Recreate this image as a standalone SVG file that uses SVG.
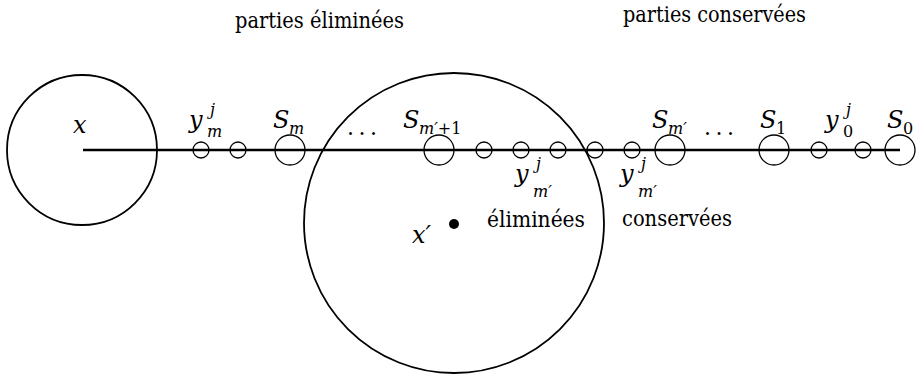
<svg xmlns="http://www.w3.org/2000/svg" width="918" height="379" viewBox="0 0 918 379">
<style>
.bg{fill:#fff}
.c{fill:none;stroke:#000;stroke-width:1.3}
.big{fill:none;stroke:#000;stroke-width:1.8}
.ln{stroke:#000;stroke-width:2.4}
text{font-family:'DejaVu Serif','Liberation Serif',serif;fill:#000}
.t{font-size:22px}
.m{font-style:italic;font-size:24px}
.s{font-style:italic;font-size:16px}
.u{font-style:normal;font-size:16px}
</style>
<rect class="bg" width="918" height="379"/>
<g id="connectors">
<line class="ln" x1="83" y1="150" x2="900" y2="150"/>
</g>
<g id="region-x">
<circle class="big" cx="82" cy="150" r="75"/>
<text class="m" x="73" y="133">x</text>
</g>
<g id="region-xprime">
<circle class="big" cx="454" cy="223" r="150"/>
<circle cx="454" cy="224" r="5" fill="#000"/>
<text class="m" x="412" y="243">x′</text>
</g>
<g id="nodes">
<circle class="c" cx="201" cy="150" r="8"/>
<circle class="c" cx="238" cy="150" r="8"/>
<circle class="c" cx="290" cy="150" r="15"/>
<circle class="c" cx="439" cy="150" r="15"/>
<circle class="c" cx="484" cy="150" r="8"/>
<circle class="c" cx="521" cy="150" r="8"/>
<circle class="c" cx="558" cy="150" r="8"/>
<circle class="c" cx="595" cy="150" r="8"/>
<circle class="c" cx="632" cy="150" r="8"/>
<circle class="c" cx="670" cy="150" r="15"/>
<circle class="c" cx="774" cy="150" r="15"/>
<circle class="c" cx="819" cy="150" r="8"/>
<circle class="c" cx="863" cy="150" r="8"/>
<circle class="c" cx="900" cy="150" r="15"/>
</g>
<g id="labels">
<text class="t" x="235" y="28" textLength="169" lengthAdjust="spacingAndGlyphs">parties éliminées</text>
<text class="t" x="623" y="22" textLength="183" lengthAdjust="spacingAndGlyphs">parties conservées</text>
<text class="m" x="189" y="128" font-size="26">y<tspan class="s" x="210" y="115">j</tspan><tspan class="s" x="207" y="137">m</tspan></text>
<text class="m" x="273" y="128">S<tspan class="s" x="289" y="134">m</tspan></text>
<text class="t" x="347" y="135" textLength="30" lengthAdjust="spacing">. . .</text>
<text class="m" x="403" y="128">S<tspan class="s" x="419" y="134">m′<tspan class="u">+1</tspan></tspan></text>
<text class="m" x="652" y="128">S<tspan class="s" x="668" y="134">m′</tspan></text>
<text class="t" x="704" y="135" textLength="30" lengthAdjust="spacing">. . .</text>
<text class="m" x="760" y="128">S<tspan class="u" x="776" y="134">1</tspan></text>
<text class="m" x="825" y="128" font-size="26">y<tspan class="s" x="846" y="115">j</tspan><tspan class="u" x="843" y="137">0</tspan></text>
<text class="m" x="887" y="128">S<tspan class="u" x="903" y="134">0</tspan></text>
<text class="m" x="515" y="182" font-size="26">y<tspan class="s" x="536" y="169">j</tspan><tspan class="s" x="533" y="197">m′</tspan></text>
<text class="m" x="620" y="182" font-size="26">y<tspan class="s" x="641" y="169">j</tspan><tspan class="s" x="638" y="197">m′</tspan></text>
<text class="t" x="487" y="227" textLength="98" lengthAdjust="spacingAndGlyphs">éliminées</text>
<text class="t" x="622" y="226" textLength="110" lengthAdjust="spacingAndGlyphs">conservées</text>
</g>
</svg>
